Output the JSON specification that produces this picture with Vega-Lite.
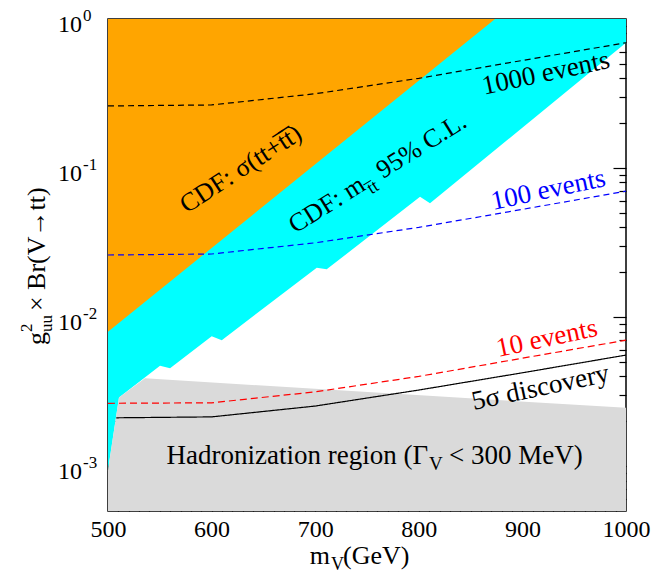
{
  "$schema": "https://vega.github.io/schema/vega-lite/v6.json",
  "width": 518,
  "height": 492,
  "autosize": "none",
  "padding": {"left": 108, "top": 19, "right": 27, "bottom": 63},
  "background": "white",
  "config": {
    "view": {"stroke": "black", "strokeWidth": 1.5},
    "font": "Liberation Serif",
    "axis": {"domain": false, "grid": false, "labelFont": "Liberation Serif", "labelFontSize": 24, "labelColor": "black", "tickColor": "black", "tickWidth": 1.2, "labelOverlap": false}
  },
  "datasets": {
    "cyan": [
      {"m": 500, "g": 0.00094}, {"m": 510.6, "g": 0.00289}, {"m": 550.2, "g": 0.00471}, {"m": 559.9, "g": 0.00453},
      {"m": 600.1, "g": 0.00745}, {"m": 609.8, "g": 0.0070}, {"m": 701.5, "g": 0.0214}, {"m": 711.1, "g": 0.0209},
      {"m": 801.2, "g": 0.0642}, {"m": 810.8, "g": 0.058}, {"m": 1000, "g": 0.693}
    ],
    "orange": [{"m": 500, "g": 0.00797}, {"m": 873.6, "g": 1}],
    "gray": [{"m": 500, "g": 0.00094}, {"m": 510.6, "g": 0.00289}, {"m": 535.7, "g": 0.00388}, {"m": 1000, "g": 0.00246}],
    "curves": [
      {"s": "1000 events", "m": 500, "g": 0.261}, {"s": "1000 events", "m": 600, "g": 0.265}, {"s": "1000 events", "m": 700, "g": 0.315},
      {"s": "1000 events", "m": 800, "g": 0.40}, {"s": "1000 events", "m": 900, "g": 0.527}, {"s": "1000 events", "m": 1000, "g": 0.693},
      {"s": "100 events", "m": 500, "g": 0.0261}, {"s": "100 events", "m": 600, "g": 0.0265}, {"s": "100 events", "m": 700, "g": 0.0315},
      {"s": "100 events", "m": 800, "g": 0.040}, {"s": "100 events", "m": 900, "g": 0.0528}, {"s": "100 events", "m": 1000, "g": 0.070},
      {"s": "10 events", "m": 500, "g": 0.00264}, {"s": "10 events", "m": 600, "g": 0.00266}, {"s": "10 events", "m": 700, "g": 0.00315},
      {"s": "10 events", "m": 800, "g": 0.0040}, {"s": "10 events", "m": 900, "g": 0.0053}, {"s": "10 events", "m": 1000, "g": 0.0070},
      {"s": "5σ discovery", "m": 508, "g": 0.00211}, {"s": "5σ discovery", "m": 600, "g": 0.00214}, {"s": "5σ discovery", "m": 700, "g": 0.00253},
      {"s": "5σ discovery", "m": 800, "g": 0.00324}, {"s": "5σ discovery", "m": 900, "g": 0.00423}, {"s": "5σ discovery", "m": 1000, "g": 0.00556}
    ],
    "yticks": [
      {"v": 1, "b": "10", "e": "0"},
      {"v": 0.1, "b": "10", "e": "-1"},
      {"v": 0.01, "b": "10", "e": "-2"},
      {"v": 0.001, "b": "10", "e": "-3"}
    ],
    "labels": [
      {"id": "l1000", "m": 922.6, "g": 0.432, "t": "1000 events"},
      {"id": "l100", "m": 925, "g": 0.0712, "t": "100 events"},
      {"id": "l10", "m": 923.5, "g": 0.00719, "t": "10 events"},
      {"id": "l5s", "m": 917.5, "g": 0.00336, "t": "5σ discovery"},
      {"id": "sig", "m": 628.2, "g": 0.0985, "t": "CDF: σ(tt+t̅t̅)"},
      {"id": "mtt1", "m": 750, "g": 0.0723, "t": "CDF: m"},
      {"id": "mtt2", "m": 750, "g": 0.0723, "t": "t̅t"},
      {"id": "mtt3", "m": 750, "g": 0.0723, "t": "95% C.L."},
      {"id": "had1", "m": 809, "g": 0.00103, "t": "Hadronization region (Γ"},
      {"id": "had2", "m": 809, "g": 0.00103, "t": "V"},
      {"id": "had3", "m": 809, "g": 0.00103, "t": "< 300 MeV)"},
      {"id": "xt1", "m": 714.3, "g": 0.0005, "t": "m"},
      {"id": "xt2", "m": 714.3, "g": 0.0005, "t": "V"},
      {"id": "xt3", "m": 714.3, "g": 0.0005, "t": "(GeV)"},
      {"id": "yt1", "m": 500, "g": 0.00649, "t": "g"},
      {"id": "yt2", "m": 500, "g": 0.00793, "t": "2"},
      {"id": "yt3", "m": 500, "g": 0.00793, "t": "uu"},
      {"id": "yt4", "m": 500, "g": 0.01097, "t": "× Br(V→tt)"}
    ]
  },
  "resolve": {"axis": {"x": "independent", "y": "independent"}},
  "layer": [
    {
      "data": {"name": "cyan"},
      "mark": {"type": "area", "color": "#00FFFF", "opacity": 1},
      "encoding": {
        "x": {"field": "m", "type": "quantitative", "scale": {"domain": [500, 1000], "nice": false, "zero": false},
              "axis": {"orient": "bottom", "values": [500, 600, 700, 800, 900, 1000], "format": "d", "ticks": false, "labelPadding": 6, "title": null, "labelFlush": false}},
        "y": {"field": "g", "type": "quantitative", "scale": {"type": "log", "domain": [0.0005, 1], "nice": false}, "axis": null},
        "y2": {"datum": 1}
      }
    },
    {
      "data": {"name": "orange"},
      "mark": {"type": "area", "color": "#FFA500", "opacity": 1},
      "encoding": {
        "x": {"field": "m", "type": "quantitative", "axis": {"orient": "bottom", "values": [600, 700, 800, 900], "labels": false, "tickSize": -13, "title": null}},
        "y": {"field": "g", "type": "quantitative", "axis": {"orient": "left", "values": [0.001, 0.01, 0.1], "labels": false, "tickSize": -13, "title": null}},
        "y2": {"datum": 1}
      }
    },
    {
      "data": {"name": "gray"},
      "mark": {"type": "area", "color": "#DADADA", "opacity": 1},
      "encoding": {
        "x": {"field": "m", "type": "quantitative", "axis": {"orient": "bottom", "values": [510,520,530,540,550,560,570,580,590,610,620,630,640,650,660,670,680,690,710,720,730,740,750,760,770,780,790,810,820,830,840,850,860,870,880,890,910,920,930,940,950,960,970,980,990], "labels": false, "tickSize": -7, "title": null}},
        "y": {"field": "g", "type": "quantitative", "axis": {"orient": "left", "values": [0.0006,0.0007,0.0008,0.0009,0.002,0.003,0.004,0.005,0.006,0.007,0.008,0.009,0.02,0.03,0.04,0.05,0.06,0.07,0.08,0.09,0.2,0.3,0.4,0.5,0.6,0.7,0.8,0.9], "labels": false, "tickSize": -7, "title": null}},
        "y2": {"datum": 0.0005}
      }
    },
    {
      "data": {"name": "curves"},
      "mark": {"type": "line", "strokeWidth": 1.2},
      "encoding": {
        "x": {"field": "m", "type": "quantitative", "axis": {"orient": "top", "values": [600, 700, 800, 900], "labels": false, "tickSize": -13, "title": null}},
        "y": {"field": "g", "type": "quantitative", "axis": {"orient": "right", "values": [0.001, 0.01, 0.1], "labels": false, "tickSize": -13, "title": null}},
        "color": {"field": "s", "type": "nominal", "legend": null,
                  "scale": {"domain": ["1000 events", "100 events", "10 events", "5σ discovery"], "range": ["#000000", "#0000FF", "#FF0000", "#000000"]}},
        "strokeDash": {"field": "s", "type": "nominal", "legend": null,
                  "scale": {"domain": ["1000 events", "100 events", "10 events", "5σ discovery"], "range": [[6, 4], [6, 4], [7, 4], [1, 0]]}}
      }
    },
    {
      "data": {"name": "yticks"},
      "mark": {"type": "text", "fontSize": 24, "align": "right", "baseline": "alphabetic", "color": "black", "dx": -26, "dy": 13},
      "encoding": {
        "x": {"datum": 500, "type": "quantitative", "axis": {"orient": "top", "values": [510,520,530,540,550,560,570,580,590,610,620,630,640,650,660,670,680,690,710,720,730,740,750,760,770,780,790,810,820,830,840,850,860,870,880,890,910,920,930,940,950,960,970,980,990], "labels": false, "tickSize": -7, "title": null}},
        "y": {"field": "v", "type": "quantitative", "axis": {"orient": "right", "values": [0.0006,0.0007,0.0008,0.0009,0.002,0.003,0.004,0.005,0.006,0.007,0.008,0.009,0.02,0.03,0.04,0.05,0.06,0.07,0.08,0.09,0.2,0.3,0.4,0.5,0.6,0.7,0.8,0.9], "labels": false, "tickSize": -7, "title": null}},
        "text": {"field": "b"}
      }
    },
    {
      "data": {"name": "yticks"},
      "mark": {"type": "text", "fontSize": 17, "align": "left", "baseline": "alphabetic", "color": "black", "dx": -25, "dy": 2},
      "encoding": {
        "x": {"datum": 500, "type": "quantitative", "axis": null},
        "y": {"field": "v", "type": "quantitative", "axis": null},
        "text": {"field": "e"}
      }
    },
    {
      "data": {"name": "labels"},
      "transform": [{"filter": "datum.id == 'l1000'"}],
      "mark": {"type": "text", "fontSize": 27, "angle": 348, "align": "center", "baseline": "middle", "color": "black"},
      "encoding": {"x": {"field": "m", "type": "quantitative", "axis": null}, "y": {"field": "g", "type": "quantitative", "axis": null}, "text": {"field": "t"}}
    },
    {
      "data": {"name": "labels"},
      "transform": [{"filter": "datum.id == 'l100'"}],
      "mark": {"type": "text", "fontSize": 27, "angle": 348, "align": "center", "baseline": "middle", "color": "#0000FF"},
      "encoding": {"x": {"field": "m", "type": "quantitative", "axis": null}, "y": {"field": "g", "type": "quantitative", "axis": null}, "text": {"field": "t"}}
    },
    {
      "data": {"name": "labels"},
      "transform": [{"filter": "datum.id == 'l10'"}],
      "mark": {"type": "text", "fontSize": 27, "angle": 348, "align": "center", "baseline": "middle", "color": "#FF0000"},
      "encoding": {"x": {"field": "m", "type": "quantitative", "axis": null}, "y": {"field": "g", "type": "quantitative", "axis": null}, "text": {"field": "t"}}
    },
    {
      "data": {"name": "labels"},
      "transform": [{"filter": "datum.id == 'l5s'"}],
      "mark": {"type": "text", "fontSize": 27, "angle": 348, "align": "center", "baseline": "middle", "color": "black"},
      "encoding": {"x": {"field": "m", "type": "quantitative", "axis": null}, "y": {"field": "g", "type": "quantitative", "axis": null}, "text": {"field": "t"}}
    },
    {
      "data": {"name": "labels"},
      "transform": [{"filter": "datum.id == 'sig'"}],
      "mark": {"type": "text", "fontSize": 26, "angle": 327, "align": "center", "baseline": "middle", "color": "black"},
      "encoding": {"x": {"field": "m", "type": "quantitative", "axis": null}, "y": {"field": "g", "type": "quantitative", "axis": null}, "text": {"field": "t"}}
    },
    {
      "data": {"name": "labels"},
      "transform": [{"filter": "datum.id == 'mtt1'"}],
      "mark": {"type": "text", "fontSize": 26, "angle": 328, "align": "right", "baseline": "alphabetic", "color": "black"},
      "encoding": {"x": {"field": "m", "type": "quantitative", "axis": null}, "y": {"field": "g", "type": "quantitative", "axis": null}, "text": {"field": "t"}}
    },
    {
      "data": {"name": "labels"},
      "transform": [{"filter": "datum.id == 'mtt2'"}],
      "mark": {"type": "text", "fontSize": 18, "angle": 328, "align": "left", "baseline": "alphabetic", "color": "black", "dx": 1, "dy": 7},
      "encoding": {"x": {"field": "m", "type": "quantitative", "axis": null}, "y": {"field": "g", "type": "quantitative", "axis": null}, "text": {"field": "t"}}
    },
    {
      "data": {"name": "labels"},
      "transform": [{"filter": "datum.id == 'mtt3'"}],
      "mark": {"type": "text", "fontSize": 26, "angle": 328, "align": "left", "baseline": "alphabetic", "color": "black", "dx": 19},
      "encoding": {"x": {"field": "m", "type": "quantitative", "axis": null}, "y": {"field": "g", "type": "quantitative", "axis": null}, "text": {"field": "t"}}
    },
    {
      "data": {"name": "labels"},
      "transform": [{"filter": "datum.id == 'had1'"}],
      "mark": {"type": "text", "fontSize": 27, "align": "right", "baseline": "alphabetic", "color": "black"},
      "encoding": {"x": {"field": "m", "type": "quantitative", "axis": null}, "y": {"field": "g", "type": "quantitative", "axis": null}, "text": {"field": "t"}}
    },
    {
      "data": {"name": "labels"},
      "transform": [{"filter": "datum.id == 'had2'"}],
      "mark": {"type": "text", "fontSize": 19, "align": "left", "baseline": "alphabetic", "color": "black", "dx": 1, "dy": 6},
      "encoding": {"x": {"field": "m", "type": "quantitative", "axis": null}, "y": {"field": "g", "type": "quantitative", "axis": null}, "text": {"field": "t"}}
    },
    {
      "data": {"name": "labels"},
      "transform": [{"filter": "datum.id == 'had3'"}],
      "mark": {"type": "text", "fontSize": 27, "align": "left", "baseline": "alphabetic", "color": "black", "dx": 21},
      "encoding": {"x": {"field": "m", "type": "quantitative", "axis": null}, "y": {"field": "g", "type": "quantitative", "axis": null}, "text": {"field": "t"}}
    },
    {
      "data": {"name": "labels"},
      "transform": [{"filter": "datum.id == 'xt1'"}],
      "mark": {"type": "text", "fontSize": 26, "align": "right", "baseline": "alphabetic", "color": "black", "dy": 53},
      "encoding": {"x": {"field": "m", "type": "quantitative", "axis": null}, "y": {"field": "g", "type": "quantitative", "axis": null}, "text": {"field": "t"}}
    },
    {
      "data": {"name": "labels"},
      "transform": [{"filter": "datum.id == 'xt2'"}],
      "mark": {"type": "text", "fontSize": 18, "align": "left", "baseline": "alphabetic", "color": "black", "dx": 1, "dy": 59},
      "encoding": {"x": {"field": "m", "type": "quantitative", "axis": null}, "y": {"field": "g", "type": "quantitative", "axis": null}, "text": {"field": "t"}}
    },
    {
      "data": {"name": "labels"},
      "transform": [{"filter": "datum.id == 'xt3'"}],
      "mark": {"type": "text", "fontSize": 26, "align": "left", "baseline": "alphabetic", "color": "black", "dx": 13, "dy": 53},
      "encoding": {"x": {"field": "m", "type": "quantitative", "axis": null}, "y": {"field": "g", "type": "quantitative", "axis": null}, "text": {"field": "t"}}
    },
    {
      "data": {"name": "labels"},
      "transform": [{"filter": "datum.id == 'yt1'"}],
      "mark": {"type": "text", "fontSize": 26, "angle": 270, "align": "left", "baseline": "alphabetic", "color": "black", "dy": -63},
      "encoding": {"x": {"field": "m", "type": "quantitative", "axis": null}, "y": {"field": "g", "type": "quantitative", "axis": null}, "text": {"field": "t"}}
    },
    {
      "data": {"name": "labels"},
      "transform": [{"filter": "datum.id == 'yt2'"}],
      "mark": {"type": "text", "fontSize": 17, "angle": 270, "align": "left", "baseline": "alphabetic", "color": "black", "dy": -76},
      "encoding": {"x": {"field": "m", "type": "quantitative", "axis": null}, "y": {"field": "g", "type": "quantitative", "axis": null}, "text": {"field": "t"}}
    },
    {
      "data": {"name": "labels"},
      "transform": [{"filter": "datum.id == 'yt3'"}],
      "mark": {"type": "text", "fontSize": 17, "angle": 270, "align": "left", "baseline": "alphabetic", "color": "black", "dy": -56},
      "encoding": {"x": {"field": "m", "type": "quantitative", "axis": null}, "y": {"field": "g", "type": "quantitative", "axis": null}, "text": {"field": "t"}}
    },
    {
      "data": {"name": "labels"},
      "transform": [{"filter": "datum.id == 'yt4'"}],
      "mark": {"type": "text", "fontSize": 26, "angle": 270, "align": "left", "baseline": "alphabetic", "color": "black", "dy": -63},
      "encoding": {"x": {"field": "m", "type": "quantitative", "axis": null}, "y": {"field": "g", "type": "quantitative", "axis": null}, "text": {"field": "t"}}
    }
  ]
}
